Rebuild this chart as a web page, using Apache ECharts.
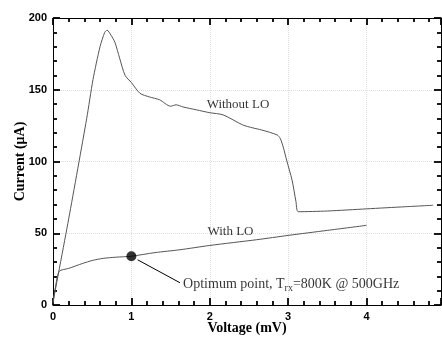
<!DOCTYPE html>
<html>
<head>
<meta charset="utf-8">
<script src="https://cdn.jsdelivr.net/npm/echarts@6/dist/echarts.min.js"></script>
<style>
  html, body { margin: 0; padding: 0; background: #fff; }
  #chart { width: 442px; height: 338px; }
</style>
</head>
<body>
<div id="chart"></div>
<script>
// I-V curves (voltage in mV, current in uA)
const withoutLO = [
  [0, 2], [0.2, 60], [0.43, 130], [0.51, 157], [0.6, 180], [0.66, 190], [0.69, 191.5],
  [0.74, 188], [0.79, 183], [0.85, 172], [0.92, 160], [1.0, 155], [1.11, 147.5],
  [1.23, 145], [1.36, 143], [1.5, 138.5], [1.57, 139.5], [1.66, 138], [1.83, 136],
  [2.0, 134], [2.17, 132.5], [2.42, 125.5], [2.55, 123.4], [2.66, 122], [2.86, 118.5],
  [2.9, 116], [2.94, 109.5], [2.98, 101], [3.05, 87], [3.1, 72], [3.13, 65],
  [3.5, 65.5], [4.0, 67], [4.5, 68.5], [4.85, 69.5]
]
const withLO = [
  [0, 1], [0.03, 12], [0.08, 23.5], [0.2, 25.5], [0.38, 29], [0.5, 31], [0.64, 32.5],
  [0.8, 33.3], [1.0, 34], [1.3, 36.5], [1.62, 38.5], [2.0, 41.5], [2.6, 45.5],
  [3.0, 48.5], [3.5, 52], [4.0, 55.5]
]
const optimum = [1.0, 34]
const arrowFrom = [1.62, 15.5]
const arrowTo = [1.08, 31.5]

// annotation anchors (left edge, vertical middle of the text)
const labelWithout = [1.96, 139.5]
const labelWith = [1.97, 51]
const labelOpt = [1.66, 14.5]

const xTicks = [0, 1, 2, 3, 4]
const yTicks = [0, 50, 100, 150, 200]

const serif = '"Liberation Serif", "DejaVu Serif", serif'
const sans = '"Liberation Sans", Arial, sans-serif'

const chart = echarts.init(document.getElementById('chart'))

function frameAxis() {
  return {
    min: 0,
    axisLine: { show: true, onZero: false, lineStyle: { color: '#000', width: 1 } },
    axisTick: { show: true, inside: true, length: 7, lineStyle: { color: '#000', width: 1.8 } },
    minorTick: { show: true, splitNumber: 5, length: 4, lineStyle: { color: '#000', width: 1.8 } },
  }
}

// translucent so the black ticks underneath stay black
const faintGrid = { show: true, lineStyle: { color: '#000', opacity: 0.13, type: 'dotted' } }

chart.setOption({
  animation: false,
  backgroundColor: '#fff',
  grid: { left: 53, right: 1, top: 18, bottom: 33, outerBoundsMode: 'none', containLabel: false },
  xAxis: [
    {
      ...frameAxis(),
      type: 'value',
      position: 'bottom',
      max: 4.95,
      interval: 1,
      name: 'Voltage (mV)',
      nameLocation: 'middle',
      nameGap: 16,
      nameMoveOverlap: false,
      nameTextStyle: { fontFamily: serif, fontWeight: 'bold', fontSize: 14, color: '#000' },
      axisLabel: {
        margin: 6, fontFamily: sans, fontWeight: 'bold', fontSize: 11, color: '#000',
        formatter: v => xTicks.includes(v) ? String(v) : '',
      },
      splitLine: faintGrid,
    },
    {
      ...frameAxis(),
      type: 'value',
      position: 'top',
      max: 4.95,
      interval: 1,
      axisLabel: { show: false },
      splitLine: { show: false },
    },
  ],
  yAxis: [
    {
      ...frameAxis(),
      type: 'value',
      position: 'left',
      max: 200,
      interval: 50,
      name: 'Current (\u03bcA)',
      nameLocation: 'middle',
      nameGap: 26,
      nameMoveOverlap: false,
      nameTextStyle: { fontFamily: serif, fontWeight: 'bold', fontSize: 14, color: '#000' },
      axisLabel: {
        margin: 6, fontFamily: sans, fontWeight: 'bold', fontSize: 11, color: '#000',
        formatter: v => yTicks.includes(v) ? String(v) : '',
      },
      splitLine: faintGrid,
    },
    {
      ...frameAxis(),
      type: 'value',
      position: 'right',
      max: 200,
      interval: 50,
      axisLabel: { show: false },
      splitLine: { show: false },
    },
  ],
  series: [
    {
      name: 'Without LO',
      type: 'line',
      data: withoutLO,
      smooth: 0.25,
      symbol: 'none',
      lineStyle: { color: '#555', width: 1 },
    },
    {
      name: 'With LO',
      type: 'line',
      data: withLO,
      smooth: 0.25,
      symbol: 'none',
      lineStyle: { color: '#555', width: 1 },
    },
    {
      name: 'Optimum',
      type: 'scatter',
      data: [optimum],
      symbol: 'circle',
      symbolSize: 10,
      itemStyle: { color: '#000' },
      z: 5,
      markLine: {
        silent: true,
        symbol: ['none', 'arrow'],
        symbolSize: [0, 8],
        label: { show: false },
        lineStyle: { color: '#000', width: 1, type: 'solid' },
        data: [[{ coord: arrowFrom }, { coord: arrowTo }]],
      },
    },
    {
      name: 'labels',
      type: 'scatter',
      symbolSize: 0,
      silent: true,
      data: [
        { value: labelWithout, text: 'Without LO' },
        { value: labelWith, text: 'With LO' },
        {
          value: labelOpt, text: 'opt',
          label: { fontSize: 14 },
        },
      ],
      label: {
        show: true,
        position: 'right',
        distance: 0,
        fontFamily: serif,
        fontSize: 13,
        color: '#000',
        formatter: p => p.data.text === 'opt'
          ? 'Optimum point, T{sub|rx}=800K @ 500GHz'
          : p.data.text,
        rich: {
          sub: { fontFamily: serif, fontSize: 10, color: '#000', padding: [9, 0, 0, 0] },
        },
      },
    },
  ],
})
</script>
</body>
</html>
